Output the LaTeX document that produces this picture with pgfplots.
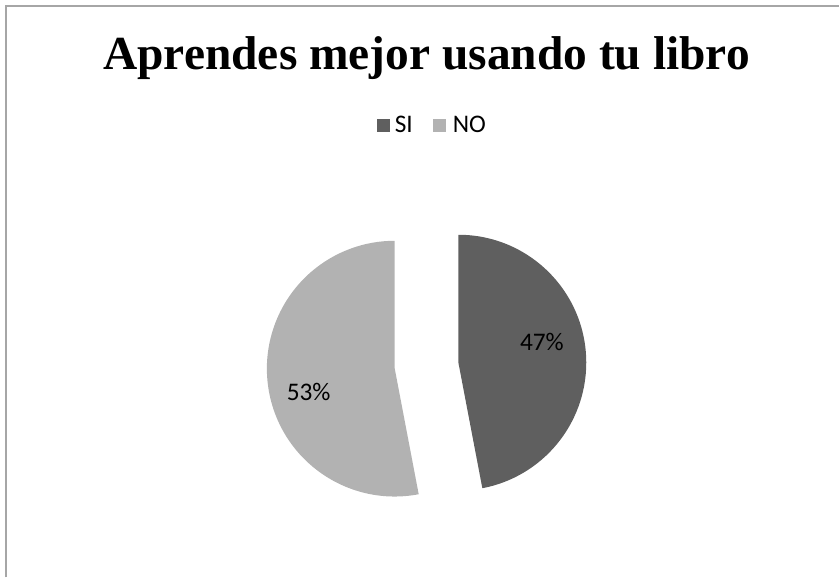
\documentclass[border=0pt]{standalone}
\usepackage{pgfplots}
\usepackage{pgfplotstable}
\pgfplotsset{compat=1.18}
\usepackage{fontspec}
\setmainfont{Liberation Serif}
\newfontfamily\calfont{Carlito}
\definecolor{siC}{HTML}{5F5F5F}
\definecolor{noC}{HTML}{B2B2B2}
\definecolor{frameC}{HTML}{A6A6A6}
\pgfplotstableread{
label value
SI 47
NO 53
}\piedata
\pgfplotstablegetelem{0}{value}\of\piedata \let\vSI\pgfplotsretval
\pgfplotstablegetelem{1}{value}\of\piedata \let\vNO\pgfplotsretval
\pgfmathsetmacro{\endSI}{90-3.6*\vSI}
\pgfmathsetmacro{\midSI}{90-1.8*\vSI}
\pgfmathsetmacro{\endNO}{\endSI-3.6*\vNO}
\pgfmathsetmacro{\midNO}{\endSI-1.8*\vNO}
\begin{document}
\begin{tikzpicture}
\begin{axis}[
  scale only axis, width=630pt, height=433.5pt,
  xmin=0, xmax=840, ymin=0, ymax=578, y dir=reverse,
  axis line style={draw=none},
  ticks=none, clip=false,
]
\addplot[draw=none] coordinates {(0,0) (840,578)};
% frame (left and top only)
\draw[frameC, line width=1.3pt] (axis cs:6,578) -- (axis cs:6,6) -- (axis cs:840,6);
% pie slices
\fill[siC] ([shift={(\midSI:24pt)}]axis cs:427,366) -- ++(90:96pt) arc[start angle=90, end angle=\endSI, radius=96pt] -- cycle;
\fill[noC] ([shift={(\midNO:24pt)}]axis cs:427,366) -- ++(\endSI:96pt) arc[start angle=\endSI, end angle=\endNO, radius=96pt] -- cycle;
% title
\node[anchor=base, font=\bfseries\fontsize{35.6pt}{40pt}\selectfont] at (axis cs:427,70) {Aprendes mejor usando tu libro};
% legend
\fill[siC] (axis cs:377,119) rectangle (axis cs:390,132);
\node[anchor=base west, inner sep=0pt, font=\calfont\fontsize{19pt}{21pt}\selectfont] at (axis cs:395,133) {SI};
\fill[noC] (axis cs:433,119) rectangle (axis cs:446,132);
\node[anchor=base west, inner sep=0pt, font=\calfont\fontsize{19pt}{21pt}\selectfont] at (axis cs:453,133) {NO};
% data labels
\node[anchor=base, inner sep=0pt, font=\calfont\fontsize{19pt}{21pt}\selectfont] at (axis cs:542.5,351) {\vSI\%};
\node[anchor=base, inner sep=0pt, font=\calfont\fontsize{19pt}{21pt}\selectfont] at (axis cs:309,401) {\vNO\%};
\end{axis}
\end{tikzpicture}
\end{document}
